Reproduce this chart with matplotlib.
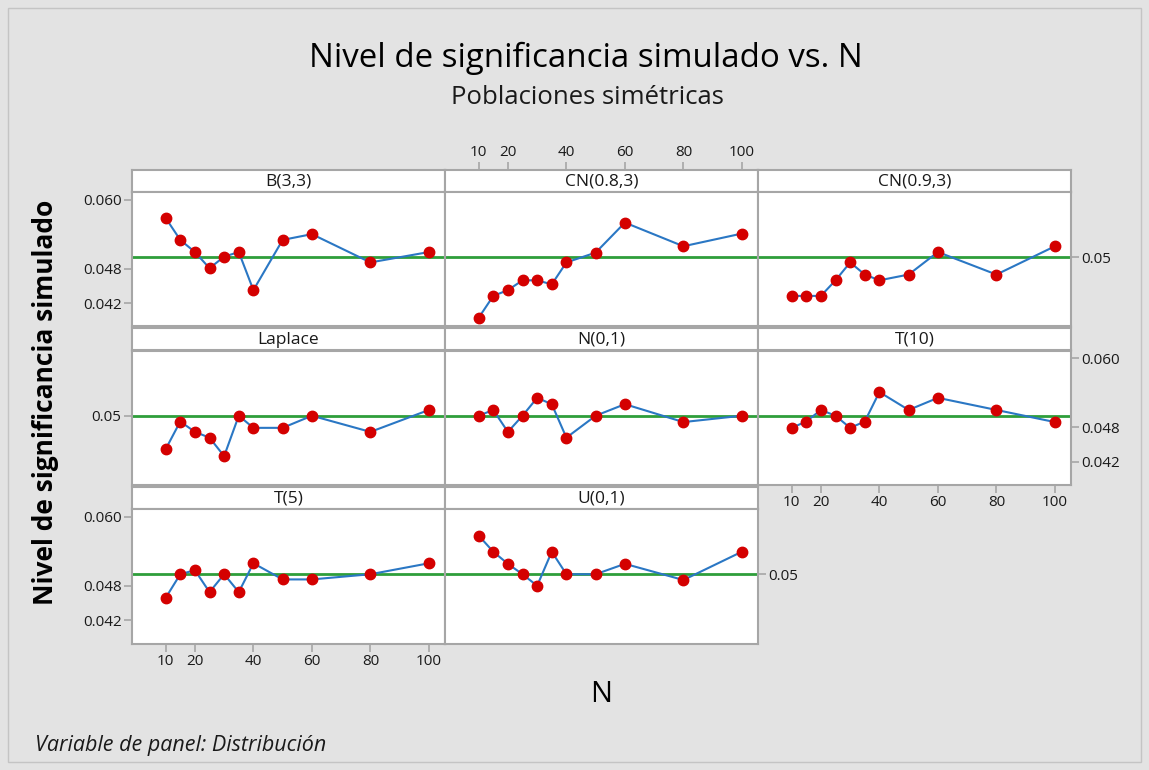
import matplotlib
matplotlib.use('Agg')
import matplotlib.pyplot as plt
from matplotlib.patches import Rectangle

plt.rcParams['font.family'] = ['Open Sans', 'Noto Sans', 'DejaVu Sans']

# datos
n_values = [10, 15, 20, 25, 30, 35, 40, 50, 60, 80, 100]
b33 = [0.0568, 0.0530, 0.0509, 0.0481, 0.0501, 0.0509, 0.0443, 0.0530, 0.0540, 0.0491, 0.0509]
cn083 = [0.0395, 0.0433, 0.0443, 0.0460, 0.0460, 0.0453, 0.0491, 0.0508, 0.0560, 0.0519, 0.0541]
cn093 = [0.0433, 0.0433, 0.0433, 0.0460, 0.0491, 0.0470, 0.0460, 0.0470, 0.0509, 0.0470, 0.0519]
laplace = [0.0442, 0.0490, 0.0472, 0.0462, 0.0430, 0.0500, 0.0479, 0.0479, 0.0500, 0.0472, 0.0510]
n01 = [0.0500, 0.0510, 0.0472, 0.0500, 0.0531, 0.0520, 0.0462, 0.0500, 0.0520, 0.0489, 0.0500]
t10 = [0.0479, 0.0490, 0.0510, 0.0500, 0.0479, 0.0490, 0.0541, 0.0510, 0.0531, 0.0510, 0.0489]
t5 = [0.0459, 0.0500, 0.0507, 0.0469, 0.0500, 0.0469, 0.0519, 0.0491, 0.0491, 0.0500, 0.0519]
u01 = [0.0567, 0.0539, 0.0518, 0.0500, 0.0480, 0.0539, 0.0500, 0.0500, 0.0518, 0.0490, 0.0539]

panel_names = ['B(3,3)', 'CN(0.8,3)', 'CN(0.9,3)', 'Laplace', 'N(0,1)', 'T(10)', 'T(5)', 'U(0,1)']
panel_values = [b33, cn083, cn093, laplace, n01, t10, t5, u01]
x_ticks = [10, 20, 40, 60, 80, 100]
y_ticks = [0.042, 0.048, 0.060]
y_ticklabels = ['0.042', '0.048', '0.060']
ref_level = 0.05

W, H = 1149, 770
bg = '#e3e3e3'
edge = '#a6a6a6'
txt = '#1a1a1a'
tick_fs = 11

fig = plt.figure(figsize=(W / 100, H / 100), dpi=100, facecolor=bg)


def rect(x0, y0, x1, y1):
    return [x0 / W, 1 - y1 / H, (x1 - x0) / W, (y1 - y0) / H]


# marco exterior
fig.patches.append(Rectangle((8 / W, 8 / H), 1 - 16 / W, 1 - 16 / H, transform=fig.transFigure,
                             fill=False, edgecolor='#c4c4c4', lw=1))

col_x = [132, 445, 758]
col_w = 313
row_y = [169.5, 328, 486.5]
strip_h = 22.5
plot_h = 134.5
xlim = (-1.5, 105.5)
ylim = (0.0380, 0.0613)

for k, (name, vals) in enumerate(zip(panel_names, panel_values)):
    r, c = divmod(k, 3)
    x0 = col_x[c]
    x1 = x0 + col_w
    y0 = row_y[r]

    sax = fig.add_axes(rect(x0, y0, x1, y0 + strip_h))
    sax.set_facecolor('white')
    sax.set_xlim(xlim)
    sax.set_yticks([])
    sax.set_xticks([])
    sax.text(0.5, 0.47, name, transform=sax.transAxes, ha='center', va='center',
             fontsize=12.5, color=txt)

    ax = fig.add_axes(rect(x0, y0 + strip_h, x1, y0 + strip_h + plot_h))
    ax.set_facecolor('white')
    ax.set_xlim(xlim)
    ax.set_ylim(ylim)
    ax.axhline(ref_level, color='#2e9e3a', lw=2, zorder=1)
    ax.plot(n_values, vals, color='#2a77c4', lw=1.5, zorder=2)
    ax.plot(n_values, vals, 'o', color='#d40000', ms=7.5, mec='#d40000', zorder=3)
    ax.set_xticks([])
    ax.set_yticks([])

    for a in (ax, sax):
        for sp in a.spines.values():
            sp.set_color(edge)
            sp.set_linewidth(1.5)

    # ejes alternados, como en Minitab
    if name in ('B(3,3)', 'T(5)'):
        ax.set_yticks(y_ticks)
        ax.set_yticklabels(y_ticklabels)
    if name == 'T(10)':
        ax.yaxis.tick_right()
        ax.set_yticks(y_ticks)
        ax.set_yticklabels(y_ticklabels)
    if name == 'Laplace':
        ax.set_yticks([ref_level])
        ax.set_yticklabels(['0.05'])
        ax.tick_params(axis='y', length=0, pad=13)
    if name in ('CN(0.9,3)', 'U(0,1)'):
        ax.yaxis.tick_right()
        ax.set_yticks([ref_level])
        ax.set_yticklabels(['0.05'])
        ax.tick_params(axis='y', length=0, pad=6)
    if name in ('T(5)', 'T(10)'):
        ax.set_xticks(x_ticks)
    if name == 'CN(0.8,3)':
        sax.xaxis.tick_top()
        sax.set_xticks(x_ticks)
        sax.tick_params(axis='x', length=6, width=1.2, color=edge, labelsize=tick_fs,
                        labelcolor=txt, pad=1)
    ax.tick_params(length=6, width=1.2, color=edge, labelsize=tick_fs, labelcolor=txt, pad=1.5)

fig.text(586 / W, 1 - 58 / H, 'Nivel de significancia simulado vs. N', ha='center', va='center',
         fontsize=23.8, color='black')
fig.text(587 / W, 1 - 98 / H, 'Poblaciones simétricas', ha='center', va='center',
         fontsize=18.5, color=txt)
fig.text(46 / W, 1 - 402 / H, 'Nivel de significancia simulado', rotation=90, ha='center',
         va='center', fontsize=19, fontweight='bold', color='black')
fig.text(601 / W, 1 - 695 / H, 'N', ha='center', va='center', fontsize=21, color='black')
fig.text(35 / W, 1 - 746 / H, 'Variable de panel: Distribución', ha='left', va='center',
         fontsize=15.5, style='italic', color=txt)

fig.savefig('out.png', dpi=100, facecolor=bg)
